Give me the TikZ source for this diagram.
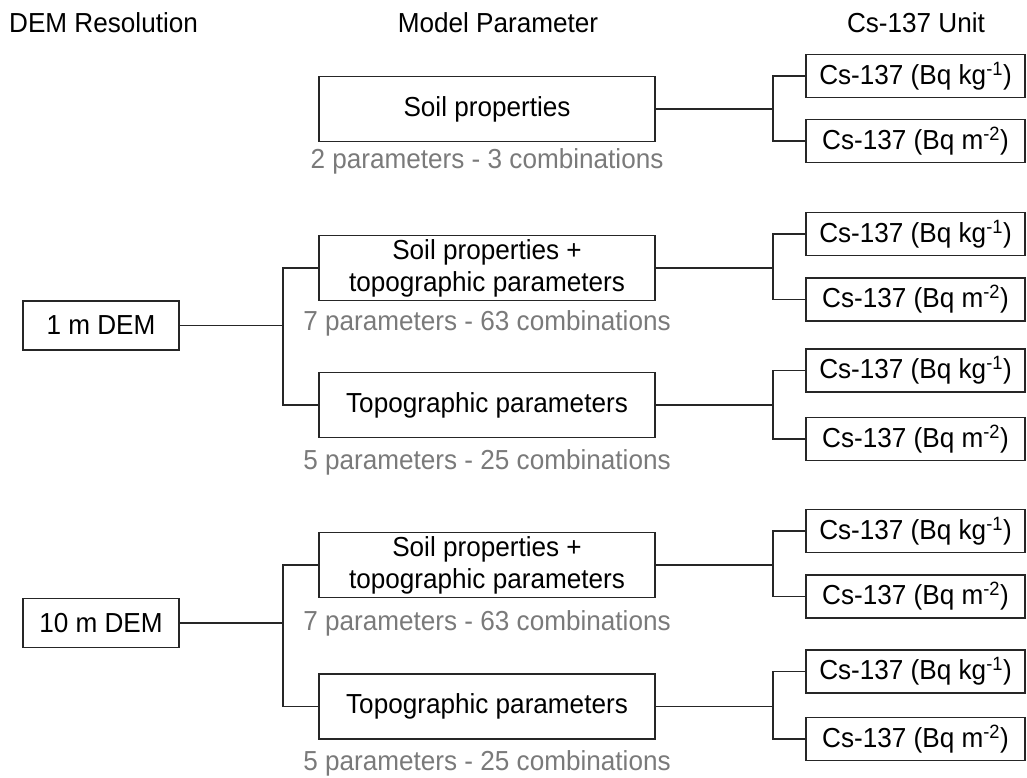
\documentclass[tikz,border=0pt]{standalone}
\usepackage{fontspec}
\setmainfont[FakeStretch=0.95]{Liberation Sans}
\begin{document}
\begin{tikzpicture}[x=1pt,y=-1pt,
  lbl/.style={font=\fontsize{27.5}{32}\selectfont, inner sep=0pt},
  bx/.style={lbl, draw=black!85, line width=1.5pt, align=center, minimum height=65pt, minimum width=336pt},
  dem/.style={lbl, draw=black!85, line width=1.5pt, minimum width=156pt, minimum height=49pt},
  unit/.style={lbl, draw=black!85, line width=1.5pt, minimum width=219pt, minimum height=43pt},
  note/.style={lbl, text=black!52},
  link/.style={draw=black!85, line width=1.5pt}]
\useasboundingbox (0,0) rectangle (1027,777);

% headers
\node[lbl, anchor=base west] (h1) at (9,32) {DEM Resolution};
\node[lbl, anchor=base] (h2) at (498,32) {Model Parameter};
\node[lbl, anchor=base] (h3) at (916,32) {Cs-137 Unit};

% DEM boxes
\node[dem] (d1) at (101,325.5) {1 m DEM};
\node[dem] (d2) at (101,623) {10 m DEM};

% model boxes
\node[bx] (m0) at (487,109) {Soil properties};
\node[bx] (m1) at (487,268) {Soil properties +\\topographic parameters};
\node[bx] (m2) at (487,405) {Topographic parameters};
\node[bx] (m3) at (487,565) {Soil properties +\\topographic parameters};
\node[bx] (m4) at (487,706.5) {Topographic parameters};

% notes
\node[note] (n0) at (487,161) {2 parameters - 3 combinations};
\node[note] (n1) at (487,323) {7 parameters - 63 combinations};
\node[note] (n2) at (487,462) {5 parameters - 25 combinations};
\node[note] (n3) at (487,623) {7 parameters - 63 combinations};
\node[note] (n4) at (487,763) {5 parameters - 25 combinations};

% unit boxes
\foreach \i/\ya/\yb in {0/76/141, 1/234/299.5, 2/370.5/439, 3/531/596.5, 4/671.5/739}{
  \node[unit] (u\i a) at (915.5,\ya) {Cs-137 (Bq kg\textsuperscript{-1})};
  \node[unit] (u\i b) at (915.5,\yb) {Cs-137 (Bq m\textsuperscript{-2})};
  \coordinate (j\i) at (773,{(\ya+\yb)/2});
  \path[link] (u\i a.west) -- (j\i |- u\i a.west) -- (j\i |- u\i b.west) -- (u\i b.west);
  \path[link] (m\i.east) -- (j\i |- m\i.east);
}

% left junctions
\coordinate (k1) at (283,325.5);
\coordinate (k2) at (283,623);
\path[link] (d1.east) -- (k1);
\path[link] (m1.west) -- (k1 |- m1.west) -- (k1 |- m2.west) -- (m2.west);
\path[link] (d2.east) -- (k2);
\path[link] (m3.west) -- (k2 |- m3.west) -- (k2 |- m4.west) -- (m4.west);
\end{tikzpicture}
\end{document}
